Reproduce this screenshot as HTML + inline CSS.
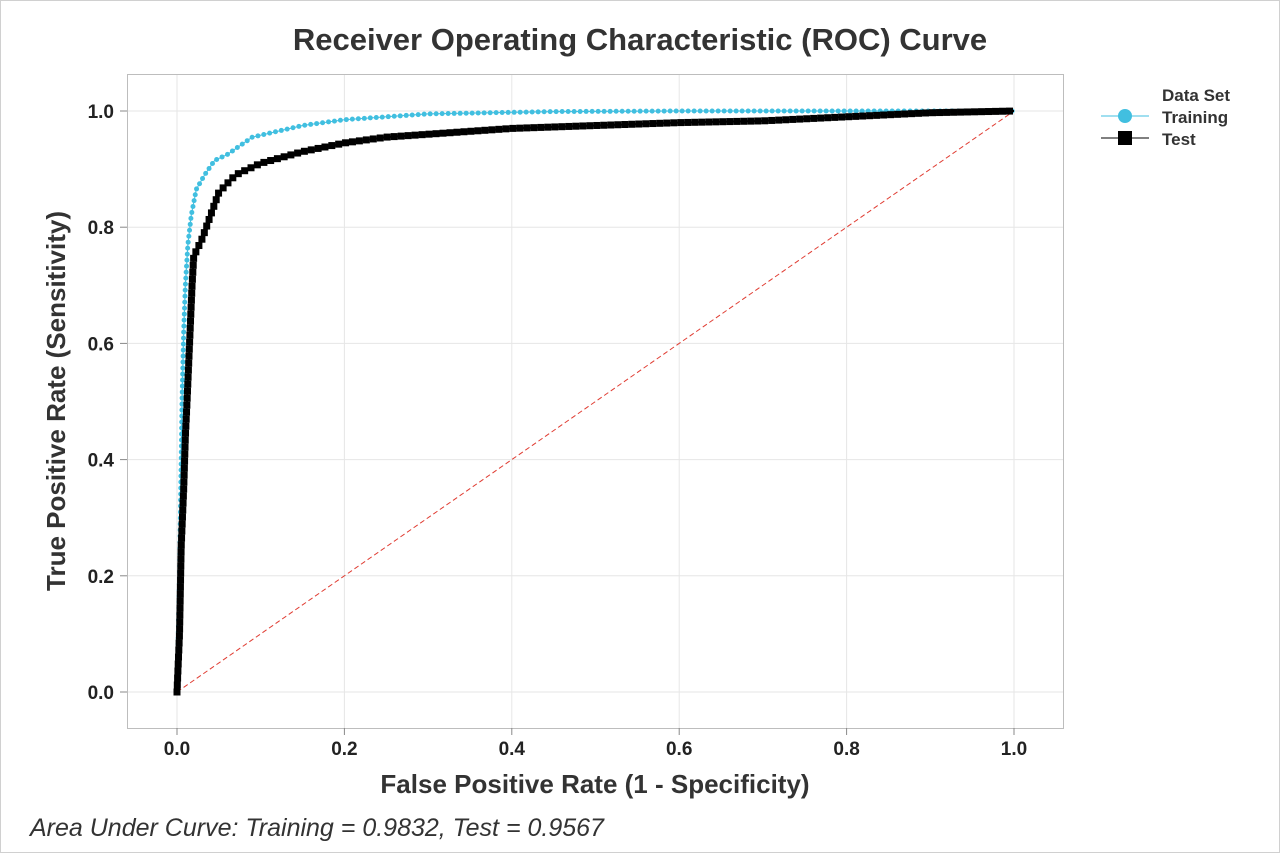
<!DOCTYPE html>
<html><head><meta charset="utf-8"><style>
body{margin:0;background:#fff;}
svg text{font-family:"Liberation Sans",sans-serif;}
</style></head><body>
<svg id="s" width="1280" height="853" viewBox="0 0 1280 853" xmlns="http://www.w3.org/2000/svg">
<rect x="0.5" y="0.5" width="1279" height="852" fill="#fff" stroke="#d0d0d0"/>
<text x="640" y="50" text-anchor="middle" font-size="31" font-weight="bold" fill="#333">Receiver Operating Characteristic (ROC) Curve</text>
<rect x="127.5" y="74.5" width="936" height="654" fill="#fff" stroke="#bdbdbd"/>
<g id="grid" stroke="#e6e6e6" stroke-width="1"></g>
<g id="ticks" font-size="19" font-weight="bold" fill="#222"></g>
<line x1="177" y1="692" x2="1014" y2="111" stroke="#e03c32" stroke-width="1" stroke-dasharray="5,3"/>
<g id="curves"></g>
<text x="595" y="793" text-anchor="middle" font-size="26" font-weight="bold" fill="#333">False Positive Rate (1 - Specificity)</text>
<text transform="translate(65,401) rotate(-90)" text-anchor="middle" font-size="26" font-weight="bold" fill="#333">True Positive Rate (Sensitivity)</text>
<text x="30" y="836" font-size="25" font-style="italic" fill="#333">Area Under Curve: Training = 0.9832, Test = 0.9567</text>
<text x="1162" y="101" font-size="17" font-weight="bold" fill="#333">Data Set</text>
<line x1="1101" y1="116" x2="1149" y2="116" stroke="#41bfe0"/>
<circle cx="1125" cy="116" r="7" fill="#41bfe0"/>
<text x="1162" y="123" font-size="17" font-weight="bold" fill="#333">Training</text>
<line x1="1101" y1="138" x2="1149" y2="138" stroke="#000"/>
<rect x="1118" y="131" width="14" height="14" fill="#000"/>
<text x="1162" y="145" font-size="17" font-weight="bold" fill="#333">Test</text>
</svg>
<script>
var NS="http://www.w3.org/2000/svg";
function X(v){return 177+v*837;}function Y(v){return 692-v*581;}
function el(p,t,a){var e=document.createElementNS(NS,t);for(var k in a)e.setAttribute(k,a[k]);document.getElementById(p).appendChild(e);return e;}
for(var i=0;i<=5;i++){var v=i*0.2;
el("grid","line",{x1:X(v),y1:75,x2:X(v),y2:728});
el("grid","line",{x1:128,y1:Y(v),x2:1063,y2:Y(v)});
el("ticks","line",{x1:X(v),y1:728,x2:X(v),y2:735,stroke:"#888"});
el("ticks","line",{x1:120,y1:Y(v),x2:127,y2:Y(v),stroke:"#888"});
el("ticks","text",{x:X(v),y:755,"text-anchor":"middle"}).textContent=v.toFixed(1);
el("ticks","text",{x:114,y:Y(v)+7,"text-anchor":"end"}).textContent=v.toFixed(1);}
var tr=[[0,0],[0.003,0.2],[0.004,0.3],[0.006,0.5],[0.008,0.62],[0.01,0.7],[0.013,0.77],[0.017,0.82],[0.023,0.865],[0.033,0.89],[0.045,0.915],[0.06,0.925],[0.075,0.94],[0.09,0.955],[0.12,0.965],[0.15,0.975],[0.2,0.985],[0.3,0.995],[0.45,0.999],[0.6,1],[1,1]];
var te=[[0,0],[0.003,0.1],[0.005,0.25],[0.008,0.35],[0.01,0.44],[0.012,0.5],[0.015,0.6],[0.018,0.7],[0.02,0.75],[0.03,0.78],[0.04,0.82],[0.05,0.86],[0.06,0.875],[0.07,0.89],[0.1,0.91],[0.15,0.93],[0.2,0.945],[0.25,0.955],[0.3,0.96],[0.4,0.97],[0.5,0.975],[0.6,0.98],[0.7,0.983],[0.8,0.99],[0.9,0.997],[1,1]];
function draw(d,col,sq,step,sw){
var pts=d.map(function(p){return [X(p[0]),Y(p[1])];});
el("curves","polyline",{points:pts.map(function(p){return p.join(",")}).join(" "),fill:"none",stroke:col,"stroke-width":sw});
var acc=0;
for(var i=0;i<pts.length-1;i++){var a=pts[i],b=pts[i+1];var L=Math.hypot(b[0]-a[0],b[1]-a[1]);
var t=acc;while(t<=L){var x=a[0]+(b[0]-a[0])*t/L,y=a[1]+(b[1]-a[1])*t/L;
if(sq)el("curves","rect",{x:x-3.5,y:y-3.5,width:7,height:7,fill:col});else el("curves","circle",{cx:x,cy:y,r:2.5,fill:col});t+=step;}
acc=t-L;}}
draw(tr,"#41bfe0",false,6,1);
draw(te,"#000",true,7,2);
</script>
</body></html>
